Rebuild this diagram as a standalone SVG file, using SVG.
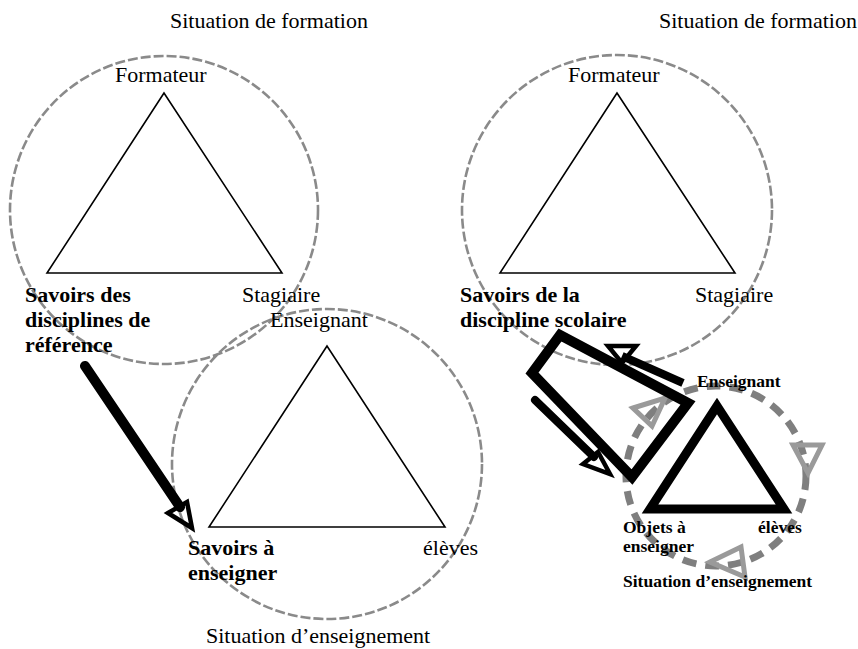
<svg xmlns="http://www.w3.org/2000/svg" width="858" height="649" viewBox="0 0 858 649">
  <style>
    text { font-family: "Liberation Serif", "Times New Roman", serif; fill: #000; }
    .lbl { font-size: 22px; }
    .bold { font-size: 22px; font-weight: bold; }
    .small { font-size: 17.5px; font-weight: bold; }
    .scope { fill: none; stroke: #8a8a8a; stroke-width: 2.6; stroke-dasharray: 10 3; }
    .tri { fill: none; stroke: #000; stroke-width: 1.6; stroke-linejoin: miter; }
    .thick { fill: none; stroke: #000; stroke-linejoin: miter; }
    .head { fill: none; stroke: #000; stroke-width: 4.5; stroke-linejoin: miter; }
    .ghead { fill: none; stroke: #9a9a9a; stroke-width: 5; stroke-linejoin: miter; }
  </style>

  <rect width="858" height="649" fill="#fff"/>

  <!-- Left: training situation -->
  <g id="formation-left">
    <circle class="scope" cx="164" cy="210" r="154"/>
    <polygon class="tri" points="164,93 47,273 282,273"/>
    <text class="lbl" x="170" y="28">Situation de formation</text>
    <text class="lbl" x="115" y="82">Formateur</text>
    <text class="lbl" x="242" y="302">Stagiaire</text>
    <text class="bold" x="25" y="302">Savoirs des</text>
    <text class="bold" x="25" y="327">disciplines de</text>
    <text class="bold" x="25" y="352">référence</text>
  </g>

  <!-- Left: teaching situation -->
  <g id="enseignement-left">
    <circle class="scope" cx="327" cy="464" r="155"/>
    <polygon class="tri" points="327,346 209,527 445,527"/>
    <text class="lbl" x="270" y="327">Enseignant</text>
    <text class="bold" x="188" y="555">Savoirs à</text>
    <text class="bold" x="188" y="580">enseigner</text>
    <text class="lbl" x="423" y="555">élèves</text>
    <text class="lbl" x="206" y="643">Situation d’enseignement</text>
  </g>

  <!-- Right: training situation -->
  <g id="formation-right">
    <circle class="scope" cx="617" cy="210" r="155"/>
    <polygon class="tri" points="617,93 500,273 735,273"/>
    <text class="lbl" x="659" y="28">Situation de formation</text>
    <text class="lbl" x="568" y="82">Formateur</text>
    <text class="lbl" x="695" y="302">Stagiaire</text>
    <text class="bold" x="460" y="302">Savoirs de la</text>
    <text class="bold" x="460" y="327">discipline scolaire</text>
  </g>

  <!-- Right: teaching situation (cycle) -->
  <g id="enseignement-right">
    <circle cx="716" cy="476" r="90" fill="none" stroke="#7f7f7f" stroke-width="7" stroke-dasharray="14 9"/>
    <polygon class="ghead" points="633,408 665,398 652,426"/>
    <polygon class="ghead" points="793,445 822,445 808,473"/>
    <polygon class="ghead" points="710,562 741,547 745,577"/>
    <polygon class="thick" stroke-width="9" points="717,406 650,509 784,509"/>
    <text class="small" x="697" y="387">Enseignant</text>
    <text class="small" x="623" y="533">Objets à</text>
    <text class="small" x="623" y="552">enseigner</text>
    <text class="small" x="758" y="533">élèves</text>
    <text class="small" x="623" y="587">Situation d’enseignement</text>
  </g>

  <!-- Connectors -->
  <g id="connectors">
    <line x1="85" y1="366" x2="180" y2="507" stroke="#000" stroke-width="10" stroke-linecap="round"/>
    <polygon class="head" points="168,513 187,502 192,528"/>

    <polygon class="thick" stroke-width="10" points="560,335 532,373 632,477 688,403"/>
    <line x1="683" y1="383" x2="622" y2="356" stroke="#000" stroke-width="8"/>
    <polygon class="head" points="608,346 636,346 622,363"/>
    <line x1="535" y1="400" x2="594" y2="457" stroke="#000" stroke-width="8" stroke-linecap="round"/>
    <polygon class="head" points="583,464 598,452 610,474"/>
  </g>
</svg>
